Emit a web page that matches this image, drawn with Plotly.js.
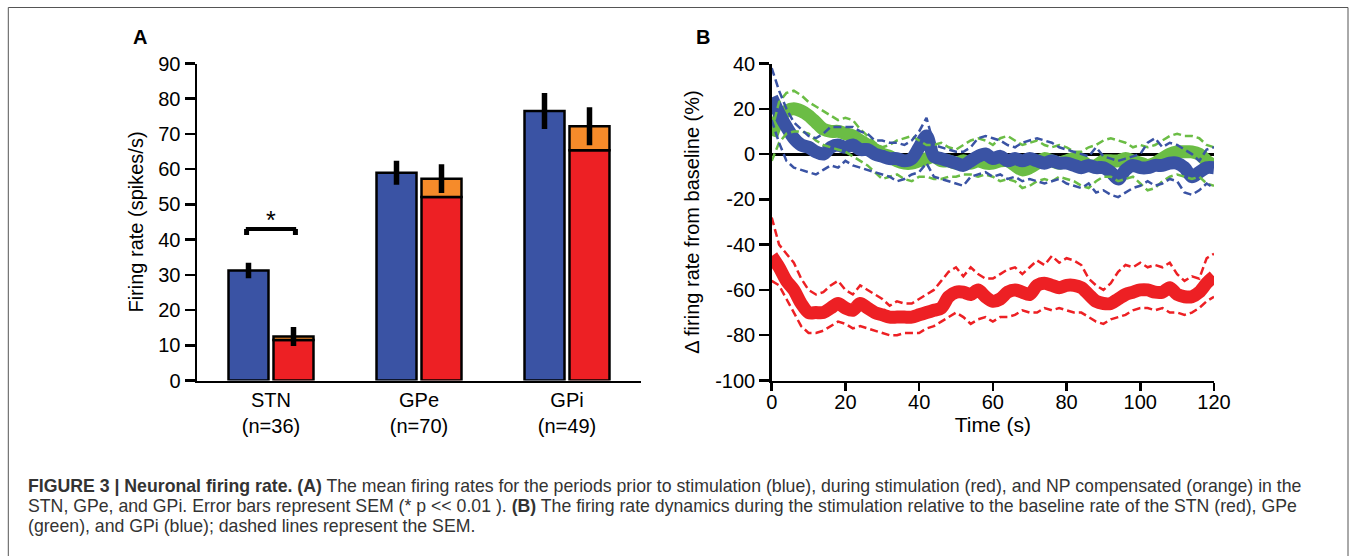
<!DOCTYPE html>
<html><head><meta charset="utf-8">
<script src="https://cdn.plot.ly/plotly-3.0.1.min.js"></script>
<style>html,body{margin:0;padding:0;background:#fff;}#chart{width:1354px;height:556px;}</style>
</head><body><div id="chart"></div>
<script>
// ---------- Panel A data ----------
const regions = ['STN', 'GPe', 'GPi'];
const cellCounts = [36, 70, 49];
const preRate = [31.2, 59.0, 76.5];     // prior to stimulation (blue)
const preSEM = [2.2, 3.4, 5.1];
const stimRate = [11.5, 52.1, 65.4];    // during stimulation (red)
const npRate = [12.5, 57.3, 72.2];      // NP compensated (orange)
const npSEM = [2.7, 4.1, 5.4];
const sigLevel = 43;                    // significance bracket height (STN)
const sigDrop = 41.3;

// ---------- Panel B data ----------
const timeSec = [0,2,4,6,8,10,12,14,16,18,20,22,24,26,28,30,32,34,36,38,40,42,44,46,48,50,52,54,56,58,60,62,64,66,68,70,72,74,76,78,80,82,84,86,88,90,92,94,96,98,100,102,104,106,108,110,112,114,116,118,120];
const stnMean = [-45,-50,-56,-60,-66,-70,-70,-70,-68,-66,
  -68,-69,-66,-68,-70,-71,-72,-72,-72,-72,
  -71,-70,-69,-68,-63,-61,-61,-62,-60,-63,
  -65,-64,-61,-60,-61,-62,-58,-57,-58,-59,
  -58,-58,-59,-62,-65,-66,-66,-64,-62,-61,
  -60,-60,-61,-61,-59,-62,-63,-63,-61,-57,
  -54];
const stnUpper = [-28,-40,-44,-48,-55,-60,-62,-61,-58,-56,
  -60,-62,-58,-60,-62,-64,-67,-65,-66,-66,
  -64,-62,-60,-56,-52,-50,-54,-50,-53,-55,
  -55,-53,-51,-50,-53,-50,-47,-49,-45,-48,
  -46,-47,-49,-55,-58,-60,-57,-52,-49,-50,
  -48,-50,-49,-50,-48,-53,-56,-54,-55,-46,
  -44];
const stnLower = [-56,-58,-64,-70,-76,-79,-79,-78,-76,-74,
  -75,-77,-76,-77,-78,-79,-80,-80,-79,-79,
  -79,-77,-76,-74,-72,-70,-72,-75,-73,-72,
  -74,-72,-72,-71,-69,-70,-70,-68,-69,-68,
  -69,-70,-70,-72,-74,-75,-73,-72,-71,-69,
  -68,-68,-69,-68,-70,-70,-71,-70,-68,-65,
  -63];
const gpeMean = [8,16,19,20,19,17,14,11,10,10,
  9,8,6,4,2,0,-1,-3,-4,-4,
  -3,-2,-1,-3,-3,-4,-3,-4,-3,-4,
  -4,-3,-3,-5,-7,-6,-4,-2,-3,-4,
  -3,-2,-3,-5,-5,-3,-3,-3,-2,-3,
  -4,-5,-4,-2,0,1,1,1,0,-3,
  -5];
const gpeUpper = [10,23,27,28,26,23,21,19,17,15,
  16,15,11,8,5,3,4,6,7,8,
  6,4,4,5,3,2,4,6,7,6,
  4,7,8,6,4,5,6,4,3,4,
  3,1,1,3,4,6,7,6,5,3,
  4,3,4,6,8,9,8,8,7,4,
  3];
const gpeLower = [-3,5,9,10,10,9,6,4,3,2,
  1,-1,-3,-5,-8,-11,-10,-9,-11,-12,
  -10,-10,-11,-11,-10,-10,-9,-9,-10,-9,
  -10,-12,-11,-12,-15,-14,-12,-11,-12,-10,
  -11,-12,-14,-15,-12,-10,-10,-12,-11,-10,
  -13,-16,-15,-12,-10,-9,-10,-11,-10,-13,
  -14];
const gpiMean = [25,18,12,7,4,3,1,0,3,4,
  3,4,2,2,0,-1,-2,-2,-3,-2,
  3,8,-1,-2,-3,-4,-5,-3,-1,0,
  -2,-1,-3,-2,-3,-2,-3,-4,-3,-4,
  -4,-5,-6,-5,-6,-6,-8,-11,-7,-5,
  -6,-6,-5,-5,-4,-4,-6,-10,-8,-6,
  -6];
const gpiUpper = [38,28,20,14,11,8,7,9,12,12,
  12,12,10,9,6,6,5,5,4,6,
  10,16,4,3,2,1,1,3,7,8,
  7,6,4,3,5,6,7,6,5,3,
  2,1,0,-1,3,-1,-2,-3,-2,-1,
  0,5,7,3,5,4,2,0,-3,2,
  3];
const gpiLower = [15,5,-3,-6,-7,-8,-9,-7,-5,-6,
  -3,-5,-6,-7,-8,-9,-10,-12,-11,-9,
  -8,-4,-10,-11,-12,-13,-14,-10,-9,-8,
  -10,-9,-11,-10,-12,-11,-12,-13,-12,-11,
  -13,-14,-15,-13,-17,-16,-18,-19,-17,-15,
  -14,-12,-14,-13,-11,-12,-17,-18,-16,-13,
  -15];
const yTicksB = [40, 20, 0, -20, -40, -60, -80, -100];

// ---------- styling ----------
const FONT = 'Liberation Sans, Arial, Helvetica, sans-serif';
const BLUE = '#3A53A4', RED = '#ED2024', ORANGE = '#F68B2A', GREEN = '#6BBD45';
const W = 1354, H = 556;
const px = v => v / W, py = v => 1 - v / H;

const traces = [];
// Panel A bars
traces.push({type:'bar', x:regions, y:preRate, offsetgroup:'pre', xaxis:'x', yaxis:'y',
  marker:{color:BLUE, line:{color:'#000', width:2.5}},
  error_y:{type:'data', array:preSEM, visible:true, color:'#000', thickness:5.5, width:0}, hoverinfo:'skip'});
traces.push({type:'bar', x:regions, y:stimRate, offsetgroup:'stim', xaxis:'x', yaxis:'y',
  marker:{color:RED, line:{color:'#000', width:2.5}}, hoverinfo:'skip'});
traces.push({type:'bar', x:regions, y:npRate.map((v,i)=>v-stimRate[i]), base:stimRate, offsetgroup:'stim', xaxis:'x', yaxis:'y',
  marker:{color:ORANGE, line:{color:'#000', width:2.5}},
  error_y:{type:'data', array:npSEM, visible:true, color:'#000', thickness:5.5, width:0}, hoverinfo:'skip'});

// Panel B lines
function meanLine(y, c){ return {type:'scatter', mode:'lines', x:timeSec, y:y, xaxis:'x2', yaxis:'y2',
  line:{color:c, width:13, shape:'spline', smoothing:0.8}, hoverinfo:'skip'}; }
function semLine(y, c){ return {type:'scatter', mode:'lines', x:timeSec, y:y, xaxis:'x2', yaxis:'y2',
  line:{color:c, width:2.5, dash:'8px,4px'}, hoverinfo:'skip'}; }
traces.push(meanLine(gpeMean, GREEN));
traces.push(meanLine(gpiMean, BLUE));
traces.push(semLine(gpeUpper, GREEN));
traces.push(semLine(gpeLower, GREEN));
traces.push(semLine(gpiUpper, BLUE));
traces.push(semLine(gpiLower, BLUE));
traces.push(meanLine(stnMean, RED));
traces.push(semLine(stnUpper, RED));
traces.push(semLine(stnLower, RED));

const yDom = [py(380.5), py(63.5)];
const axisBase = {showline:true, linecolor:'#000', linewidth:2.5, showgrid:false, zeroline:false,
  tickcolor:'#000', tickwidth:2.5, tickfont:{family:FONT, size:20, color:'#000'}, fixedrange:true};
const capFont = {family:FONT, size:17.7, color:'#333'};

const layout = {
  width:W, height:H, margin:{l:0, r:0, t:0, b:0}, autosize:false,
  paper_bgcolor:'#fff', plot_bgcolor:'rgba(0,0,0,0)', showlegend:false,
  font:{family:FONT, size:20, color:'#000'},
  barmode:'group', bargap:0.392, bargroupgap:0.111,
  xaxis:Object.assign({}, axisBase, {domain:[px(197), px(641)], anchor:'y', type:'category',
    range:[-0.5, 2.5], tickmode:'array', tickvals:regions,
    ticktext:regions.map((r,i)=>r+'<br>(n='+cellCounts[i]+')'), ticks:''}),
  yaxis:Object.assign({}, axisBase, {domain:yDom, anchor:'x', range:[0, 90], dtick:10, ticks:'outside', ticklen:10,
    title:{text:'Firing rate (spikes/s)', font:{family:FONT, size:20, color:'#000'}, standoff:10}}),
  xaxis2:Object.assign({}, axisBase, {domain:[px(771.7), px(1214)], anchor:'y2', range:[0, 120], dtick:20,
    ticks:'outside', ticklen:8, ticklabelstandoff:-6,
    title:{text:'Time (s)', font:{family:FONT, size:21, color:'#000'}, standoff:0}}),
  yaxis2:Object.assign({}, axisBase, {domain:yDom, anchor:'x2', range:[-100, 40], tickmode:'array',
    tickvals:yTicksB, ticktext:yTicksB.map(String), ticks:'outside', ticklen:10,
    zeroline:true, zerolinecolor:'#000', zerolinewidth:3, layer:'above traces',
    title:{text:'\u0394 firing rate from baseline (%)', font:{family:FONT, size:20, color:'#000'}, standoff:10}}),
  shapes:[
    {type:'rect', xref:'paper', yref:'paper', x0:px(8.3), x1:px(1348), y0:-0.05, y1:py(7.5),
      line:{color:'#555', width:1}, fillcolor:'rgba(0,0,0,0)', layer:'below'},
    {type:'line', xref:'x', yref:'y', x0:-0.17, x1:0.17, y0:sigLevel, y1:sigLevel, line:{color:'#000', width:4}},
    {type:'line', xref:'x', yref:'y', x0:-0.165, x1:-0.165, y0:sigLevel, y1:sigDrop, line:{color:'#000', width:5}},
    {type:'line', xref:'x', yref:'y', x0:0.165, x1:0.165, y0:sigLevel, y1:sigDrop, line:{color:'#000', width:5}}
  ],
  annotations:[
    {text:'<b>A</b>', xref:'paper', yref:'paper', x:px(140), y:py(37), xanchor:'center', yanchor:'middle',
      showarrow:false, font:{family:FONT, size:20, color:'#000'}},
    {text:'<b>B</b>', xref:'paper', yref:'paper', x:px(703), y:py(37), xanchor:'center', yanchor:'middle',
      showarrow:false, font:{family:FONT, size:20, color:'#000'}},
    {text:'*', xref:'x', yref:'y', x:0, y:45.5, xanchor:'center', yanchor:'middle', showarrow:false,
      font:{family:FONT, size:25, color:'#000'}},
    {text:'<b>FIGURE 3 | Neuronal firing rate. (A)</b> The mean firing rates for the periods prior to stimulation (blue), during stimulation (red), and NP compensated (orange) in the',
      xref:'paper', yref:'paper', x:px(26), y:py(486), xanchor:'left', yanchor:'middle', showarrow:false, font:capFont},
    {text:'STN, GPe, and GPi. Error bars represent SEM (* p &lt;&lt; 0.01 ). <b>(B)</b> The firing rate dynamics during the stimulation relative to the baseline rate of the STN (red), GPe',
      xref:'paper', yref:'paper', x:px(26), y:py(506), xanchor:'left', yanchor:'middle', showarrow:false, font:capFont},
    {text:'(green), and GPi (blue); dashed lines represent the SEM.',
      xref:'paper', yref:'paper', x:px(26), y:py(526), xanchor:'left', yanchor:'middle', showarrow:false, font:capFont}
  ]
};

Plotly.newPlot('chart', traces, layout, {staticPlot:true, displayModeBar:false});
</script>
</body></html>
